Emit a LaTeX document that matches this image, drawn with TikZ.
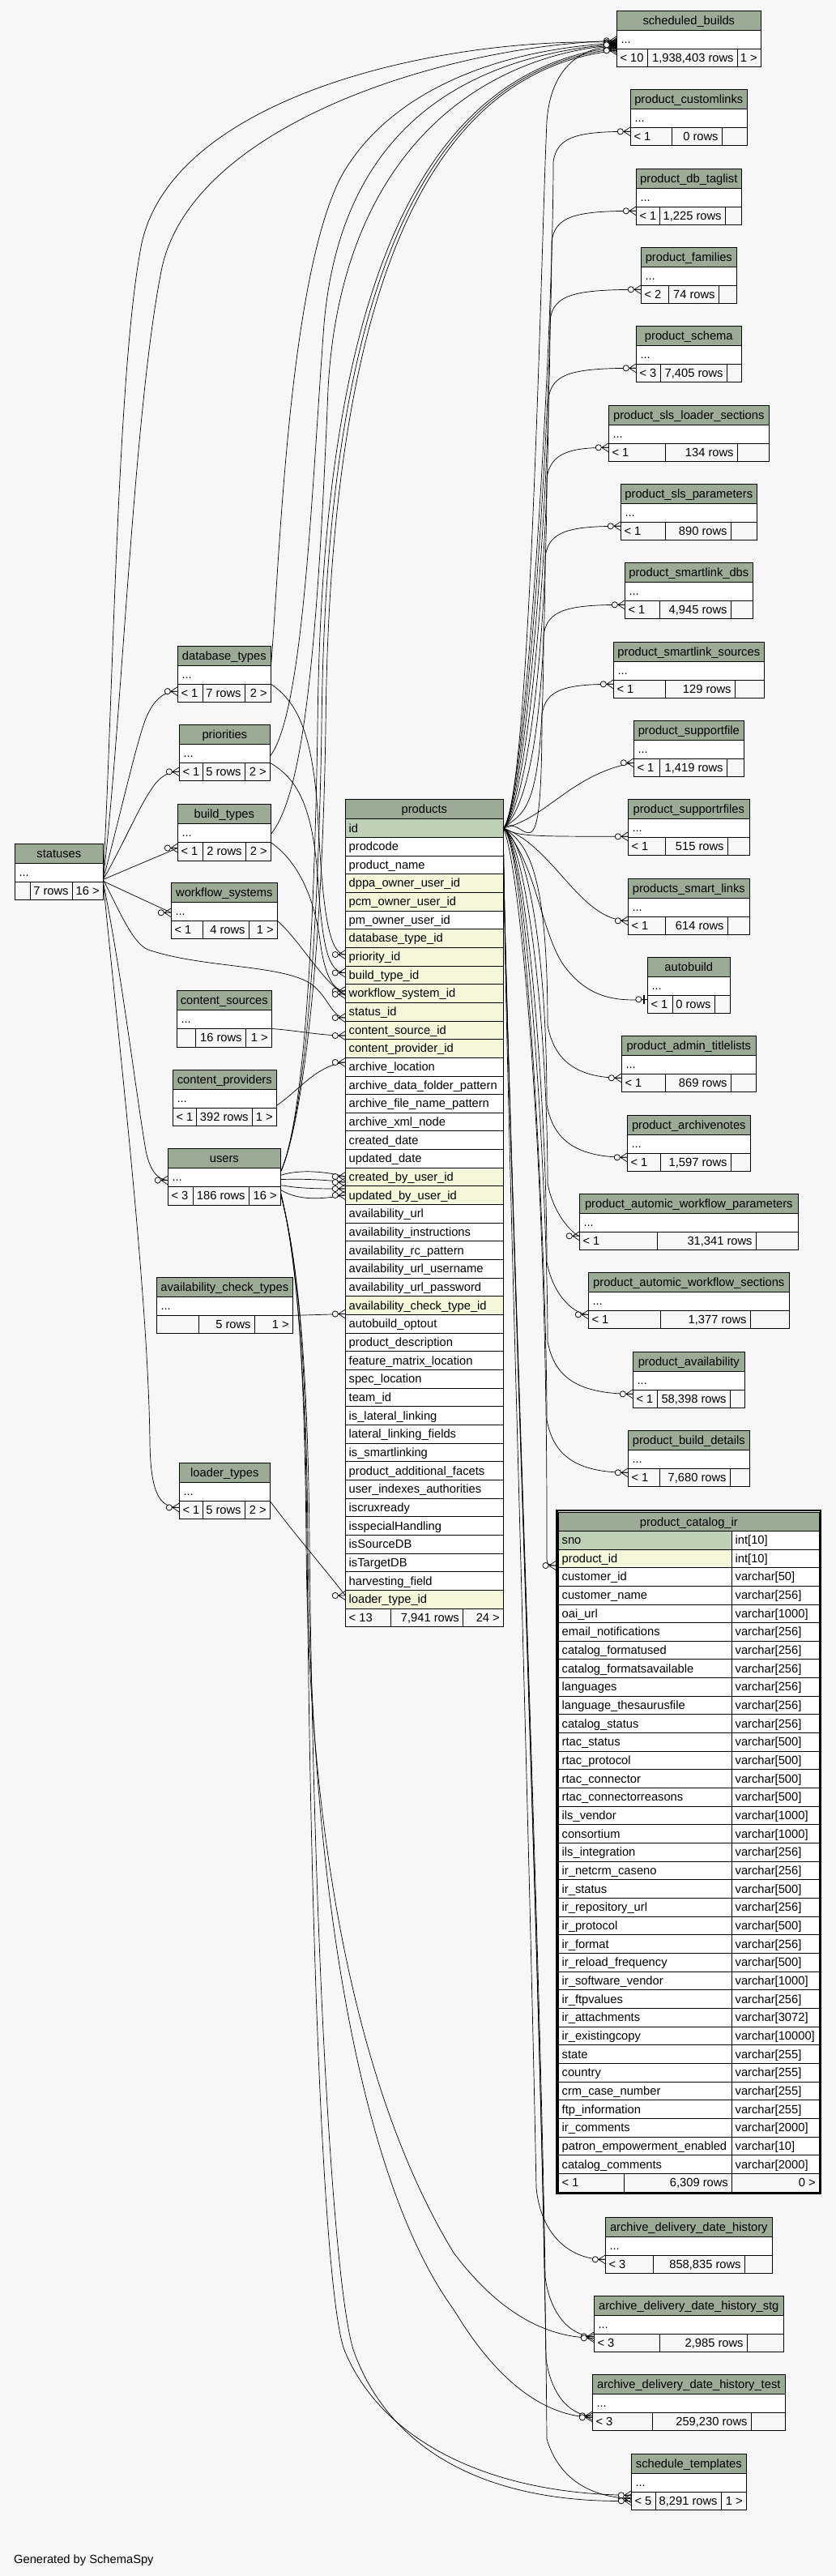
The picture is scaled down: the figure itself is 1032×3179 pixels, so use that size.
\documentclass[tikz,border=0pt]{standalone}
\usepackage{fontspec}
\setmainfont{Liberation Sans}
\usetikzlibrary{calc}
\pgfdeclarelayer{back}
\pgfsetlayers{back,main}
\definecolor{bg}{HTML}{F7F7F7}
\definecolor{hdr}{HTML}{9BAB96}
\definecolor{rowp}{HTML}{BED1B8}
\definecolor{rowf}{HTML}{F4F7DA}
\definecolor{roww}{HTML}{FFFFFF}
\tikzset{
 cell/.style={draw=black,line width=0.9pt},
 txt/.style={inner sep=0pt,font=\fontsize{14.7}{17}\selectfont},
 rel/.style={draw=black,line width=0.7pt},
}
\newcommand\stab[7]{\def\sTn{#1}\def\sTt{#2}\def\sXa{#3}\def\sXb{#4}\def\sYa{#5}\def\sDa{#6}\def\sDb{#7}\stabfoot}
\newcommand\stabfoot[3]{%
 \pgfmathsetmacro\sYb{\sYa+24}%
 \pgfmathsetmacro\sYc{\sYa+47}%
 \pgfmathsetmacro\sYd{\sYa+69.5}%
 \pgfmathsetmacro\sXm{(\sXa+\sXb)/2}%
 \pgfmathsetmacro\sW{\sXb-\sXa}%
 \fill[hdr] (\sXa,\sYa) rectangle (\sXb,\sYb);
 \fill[white] (\sXa,\sYb) rectangle (\sXb,\sYc);
 \fill[bg] (\sXa,\sYc) rectangle (\sXb,\sYd);
 \draw[cell] (\sXa,\sYa) rectangle (\sXb,\sYd);
 \draw[cell] (\sXa,\sYb) -- (\sXb,\sYb) (\sXa,\sYc) -- (\sXb,\sYc) (\sDa,\sYc) -- (\sDa,\sYd) (\sDb,\sYc) -- (\sDb,\sYd);
 \node[inner sep=0pt,minimum width=\sW pt,minimum height=69.5pt] (\sTn) at (\sXm,\sYa+34.75) {};
 \node[txt,anchor=base] (\sTn-h) at (\sXm,\sYa+17) {\sTt};
 \node[txt,anchor=base west] (\sTn-d) at (\sXa+5,\sYb+16) {...};
 \node[txt,anchor=base west] (\sTn-f1) at (\sXa+4,\sYc+16) {#1};
 \node[txt,anchor=base east] (\sTn-f2) at (\sDb-4.5,\sYc+16) {#2};
 \node[txt,anchor=base east] (\sTn-f3) at (\sXb-4.5,\sYc+16) {#3};
 \coordinate (\sTn-w) at (\sXa,\sYc+5);
 \coordinate (\sTn-e) at (\sXb,\sYc);
}
\newcommand\fkm[1]{%
 \draw[rel] ($(#1)+(-8.5,0)$) -- ($(#1)+(0,-5.5)$) ($(#1)+(-8.5,0)$) -- ($(#1)+(0,5.5)$) ($(#1)+(-8.5,0)$) -- (#1);
 \filldraw[fill=bg,draw=black,line width=0.75pt] ($(#1)+(-12.5,0)$) circle[radius=3.6pt];}
\newcommand\onem[1]{%
 \draw[rel] ($(#1)+(-9,0)$) -- (#1);
 \draw[line width=1.8pt] ($(#1)+(-4,-5.5)$) -- ($(#1)+(-4,5.5)$);
 \filldraw[fill=bg,draw=black,line width=0.75pt] ($(#1)+(-11,0)$) circle[radius=3.6pt];}
\begin{document}
\begin{tikzpicture}[x=1pt,y=-1pt]
\useasboundingbox (0,0) rectangle (1032,3179);
\begin{pgfonlayer}{back}
\fill[bg] (0,0) rectangle (1032,3179);
\end{pgfonlayer}

% ---------- right-hand tables ----------
\stab{sb}{scheduled\_builds}{761.3}{939.3}{13.3}{799.3}{910.3}{< 10}{1,938,403 rows}{1 >}
\stab{cl}{product\_customlinks}{778.3}{922.3}{110.3}{829.3}{891.3}{< 1}{0 rows}{}
\stab{tag}{product\_db\_taglist}{785.3}{915.3}{208.3}{814.3}{895.3}{< 1}{1,225 rows}{}
\stab{fam}{product\_families}{791.3}{909.3}{305.3}{825.3}{887.3}{< 2}{74 rows}{}
\stab{sch}{product\_schema}{785.3}{915.3}{402.3}{815.3}{897.3}{< 3}{7,405 rows}{}
\stab{sls}{product\_sls\_loader\_sections}{751.3}{949.3}{500.3}{821.3}{910.3}{< 1}{134 rows}{}
\stab{slsp}{product\_sls\_parameters}{766.3}{934.3}{597.3}{821.3}{902.3}{< 1}{890 rows}{}
\stab{sdb}{product\_smartlink\_dbs}{771.3}{929.3}{694.3}{814.3}{902.3}{< 1}{4,945 rows}{}
\stab{ssrc}{product\_smartlink\_sources}{757.3}{943.3}{792.3}{821.3}{907.3}{< 1}{129 rows}{}
\stab{sf}{product\_supportfile}{782.3}{918.3}{889.3}{814.3}{897.3}{< 1}{1,419 rows}{}
\stab{srf}{product\_supportrfiles}{775.3}{925.3}{986.3}{821.3}{898.3}{< 1}{515 rows}{}
\stab{psl}{products\_smart\_links}{775.3}{925.3}{1084.3}{821.3}{898.3}{< 1}{614 rows}{}
\stab{ab}{autobuild}{799.3}{901.3}{1181.3}{830.3}{882.3}{< 1}{0 rows}{}
\stab{adm}{product\_admin\_titlelists}{767.3}{933.3}{1278.3}{821.3}{902.3}{< 1}{869 rows}{}
\stab{an}{product\_archivenotes}{774.3}{926.3}{1376.3}{815.3}{902.3}{< 1}{1,597 rows}{}
\stab{awp}{product\_automic\_workflow\_parameters}{715.3}{985.3}{1473.3}{811.3}{933.3}{< 1}{31,341 rows}{}
\stab{aws}{product\_automic\_workflow\_sections}{726.3}{974.3}{1570.3}{815.3}{926.3}{< 1}{1,377 rows}{}
\stab{pav}{product\_availability}{781.3}{919.3}{1668.3}{811.3}{901.3}{< 1}{58,398 rows}{}
\stab{pbd}{product\_build\_details}{775.3}{925.3}{1765.3}{814.3}{901.3}{< 1}{7,680 rows}{}
\stab{adh}{archive\_delivery\_date\_history}{747.3}{953.3}{2736.3}{806.3}{919.3}{< 3}{858,835 rows}{}
\stab{stg}{archive\_delivery\_date\_history\_stg}{733.3}{967.3}{2833.3}{814.3}{922.3}{< 3}{2,985 rows}{}
\stab{tst}{archive\_delivery\_date\_history\_test}{731.3}{969.3}{2930.3}{805.3}{927.3}{< 3}{259,230 rows}{}
\stab{st}{schedule\_templates}{779.3}{921.3}{3028.3}{809.3}{890.3}{< 5}{8,291 rows}{1 >}

% ---------- left-hand tables ----------
\stab{dbt}{database\_types}{219.3}{334.3}{797.1}{250}{302.3}{< 1}{7 rows}{2 >}
\stab{pri}{priorities}{221.3}{333.3}{894.3}{250}{302.3}{< 1}{5 rows}{2 >}
\stab{bt}{build\_types}{219.3}{334.3}{992.5}{250}{303.3}{< 1}{2 rows}{2 >}
\stab{sts}{statuses}{18.3}{127.3}{1041.4}{37.3}{89.3}{}{7 rows}{16 >}
\stab{wf}{workflow\_systems}{211.3}{342.3}{1089.3}{250.3}{307.3}{< 1}{4 rows}{1 >}
\stab{cs}{content\_sources}{218.3}{335.3}{1222.5}{241.3}{303.3}{}{16 rows}{1 >}
\stab{cp}{content\_providers}{213.3}{341.3}{1320.4}{242.3}{311.3}{< 1}{392 rows}{1 >}
\stab{usr}{users}{207.3}{346.3}{1417.5}{238.3}{307.3}{< 3}{186 rows}{16 >}
\stab{act}{availability\_check\_types}{193.3}{361.3}{1576.4}{245.3}{314.3}{}{5 rows}{1 >}
\stab{lt}{loader\_types}{221.3}{333.3}{1805.4}{250}{302.3}{< 1}{5 rows}{2 >}

% ---------- products ----------
\node[inner sep=0pt,minimum width=195pt,minimum height=1021.7pt] (products) at (523.8,1496.85) {};
\fill[hdr] (426.3,986) rectangle (621.3,1010.7);
\draw[cell] (426.3,986) rectangle (621.3,1010.7);
\node[txt,anchor=base] (p-h) at (523.8,1003.3) {products};
\foreach \t/\c [count=\i from 0] in {id/p,prodcode/w,product\_name/w,dppa\_owner\_user\_id/f,pcm\_owner\_user\_id/f,pm\_owner\_user\_id/w,database\_type\_id/f,priority\_id/f,build\_type\_id/f,workflow\_system\_id/f,status\_id/f,content\_source\_id/f,content\_provider\_id/f,archive\_location/w,archive\_data\_folder\_pattern/w,archive\_file\_name\_pattern/w,archive\_xml\_node/w,created\_date/w,updated\_date/w,created\_by\_user\_id/f,updated\_by\_user\_id/f,availability\_url/w,availability\_instructions/w,availability\_rc\_pattern/w,availability\_url\_username/w,availability\_url\_password/w,availability\_check\_type\_id/f,autobuild\_optout/w,product\_description/w,feature\_matrix\_location/w,spec\_location/w,team\_id/w,is\_lateral\_linking/w,lateral\_linking\_fields/w,is\_smartlinking/w,product\_additional\_facets/w,user\_indexes\_authorities/w,iscruxready/w,isspecialHandling/w,isSourceDB/w,isTargetDB/w,harvesting\_field/w,loader\_type\_id/f}{
 \pgfmathsetmacro\ya{1010.7+22.66*\i}
 \fill[row\c] (426.3,\ya) rectangle (621.3,\ya+22.66);
 \draw[cell] (426.3,\ya) rectangle (621.3,\ya+22.66);
 \node[txt,anchor=base west] at (430.5,\ya+16.3) {\t};
}
\fill[bg] (426.3,1985.1) rectangle (621.3,2007.7);
\draw[cell] (426.3,1985.1) rectangle (621.3,2007.7) (482.3,1985.1) -- (482.3,2007.7) (571.3,1985.1) -- (571.3,2007.7);
\node[txt,anchor=base west] (p-f1) at (430.5,2001.4) {< 13};
\node[txt,anchor=base east] (p-f2) at (567,2001.4) {7,941 rows};
\node[txt,anchor=base east] (p-f3) at (617,2001.4) {24 >};

% ---------- product_catalog_ir ----------
\node[inner sep=0pt,minimum width=328pt,minimum height=845pt] (cat) at (850.2,2285.3) {};
\fill[hdr] (689.3,1866) rectangle (1011.3,1889.3);
\draw[cell] (689.3,1866) rectangle (1011.3,1889.3);
\node[txt,anchor=base] (cat-h) at (850.3,1883) {product\_catalog\_ir};
\foreach \t/\ty/\c [count=\i from 0] in {sno/int[10]/p,product\_id/int[10]/f,customer\_id/varchar[50]/w,customer\_name/varchar[256]/w,oai\_url/varchar[1000]/w,email\_notifications/varchar[256]/w,catalog\_formatused/varchar[256]/w,catalog\_formatsavailable/varchar[256]/w,languages/varchar[256]/w,language\_thesaurusfile/varchar[256]/w,catalog\_status/varchar[256]/w,rtac\_status/varchar[500]/w,rtac\_protocol/varchar[500]/w,rtac\_connector/varchar[500]/w,rtac\_connectorreasons/varchar[500]/w,ils\_vendor/varchar[1000]/w,consortium/varchar[1000]/w,ils\_integration/varchar[256]/w,ir\_netcrm\_caseno/varchar[256]/w,ir\_status/varchar[500]/w,ir\_repository\_url/varchar[256]/w,ir\_protocol/varchar[500]/w,ir\_format/varchar[256]/w,ir\_reload\_frequency/varchar[500]/w,ir\_software\_vendor/varchar[1000]/w,ir\_ftpvalues/varchar[256]/w,ir\_attachments/varchar[3072]/w,ir\_existingcopy/varchar[10000]/w,state/varchar[255]/w,country/varchar[255]/w,crm\_case\_number/varchar[255]/w,ftp\_information/varchar[255]/w,ir\_comments/varchar[2000]/w,patron\_empowerment\_enabled/varchar[10]/w,catalog\_comments/varchar[2000]/w}{
 \pgfmathsetmacro\ya{1889.3+22.66*\i}
 \fill[row\c] (689.3,\ya) rectangle (903.3,\ya+22.66);
 \fill[white] (903.3,\ya) rectangle (1011.3,\ya+22.66);
 \draw[cell] (689.3,\ya) rectangle (903.3,\ya+22.66) (903.3,\ya) rectangle (1011.3,\ya+22.66);
 \node[txt,anchor=base west] at (693.5,\ya+16.3) {\t};
 \node[txt,anchor=base west] at (907.5,\ya+16.3) {\ty};
}
\fill[bg] (689.3,2682.4) rectangle (1011.3,2705);
\draw[cell] (689.3,2682.4) rectangle (1011.3,2705) (770,2682.4) -- (770,2705) (903.3,2682.4) -- (903.3,2705);
\node[txt,anchor=base west] (cat-f1) at (693.5,2698.7) {< 1};
\node[txt,anchor=base east] (cat-f2) at (899,2698.7) {6,309 rows};
\node[txt,anchor=base east] (cat-f3) at (1007,2698.7) {0 >};
\draw[line width=2.6pt] (687.4,1864.0) rectangle (1013.1,2706.8);

\node[txt,anchor=base west] (gen) at (17,3163) {Generated by SchemaSpy};

% ---------- named end points ----------
\coordinate (p-id) at (621.3,1022);
\coordinate (p-dbt) at (426.3,1178);
\coordinate (p-pri) at (426.3,1200.5);
\coordinate (p-bt) at (426.3,1223);
\coordinate (p-wf) at (426.3,1227);
\coordinate (p-st) at (426.3,1256);
\coordinate (p-cs) at (426.3,1278);
\coordinate (p-cp) at (426.3,1311);
\coordinate (p-u1) at (426.3,1452);
\coordinate (p-u2) at (426.3,1459);
\coordinate (p-u3) at (426.3,1467);
\coordinate (p-u4) at (426.3,1475);
\coordinate (p-act) at (426.3,1621.5);
\coordinate (p-lt) at (426.3,1969);
\coordinate (cat-w) at (686,1932);
\coordinate (e-sb0) at ($(sb-w)+(0,-9)$);
\coordinate (e-sbs1) at ($(sb-w)+(0,-15)$);
\coordinate (e-sbs2) at ($(sb-w)+(0,-13)$);
\coordinate (e-sbu1) at ($(sb-w)+(0,-7)$);
\coordinate (e-sbu2) at ($(sb-w)+(0,-5)$);
\coordinate (e-sbu3) at ($(sb-w)+(0,-3)$);
\coordinate (e-sbd) at ($(sb-w)+(0,-12)$);
\coordinate (e-sbp) at ($(sb-w)+(0,-11)$);
\coordinate (e-sbb) at ($(sb-w)+(0,-10)$);
\coordinate (e-srf) at ($(srf-w)+(0,-6)$);
\coordinate (e-ab) at ($(ab-w)+(0,0)$);
\coordinate (e-adh) at ($(adh-w)+(0,0)$);
\coordinate (e-stg) at ($(stg-w)+(0,-2)$);
\coordinate (e-stgu) at ($(stg-w)+(0,0)$);
\coordinate (e-tst) at ($(tst-w)+(0,-1)$);
\coordinate (e-tstu) at ($(tst-w)+(0,1)$);
\coordinate (e-st) at ($(st-w)+(0,3)$);
\coordinate (e-stu1) at ($(st-w)+(0,-1)$);
\coordinate (e-stu2) at ($(st-w)+(0,6)$);
\coordinate (e-dbt) at ($(dbt-w)+(0,4)$);
\coordinate (e-pri) at ($(pri-w)+(0,6)$);
\coordinate (e-bt) at ($(bt-w)+(0,2)$);
\coordinate (e-wf) at ($(wf-w)+(0,-15)$);
\coordinate (e-usr) at ($(usr-w)+(0,-13)$);
\coordinate (e-lt) at ($(lt-w)+(0,3)$);

% ---------- connectors ----------
\begin{pgfonlayer}{back}
% products -> upper right tables
\draw[rel] (p-id) .. controls (655,990) and (668,300) .. (675,150) .. controls (680,80) and (720,58) .. (e-sb0);
\foreach \T/\bx in {cl/683,tag/681,fam/679,sch/677,sls/675,slsp/673,sdb/671,ssrc/669}{
 \draw[rel] (p-id) .. controls (648,1000) and ($(\bx,0 |- \T-w)+(0,260)$) .. ($(\bx,0 |- \T-w)+(0,38)$) .. controls ($(\bx,0 |- \T-w)+(4,6)$) and ($(\bx,0 |- \T-w)+(30,0)$) .. (\T-w);
}
\draw[rel] (p-id) .. controls (675,1010) and (705,955) .. (sf-w);
\draw[rel] (p-id) .. controls (640,1033) and (660,1032) .. (e-srf);
\draw[rel] (p-id) .. controls (685,1045) and (715,1136) .. (psl-w);
\draw[rel] (p-id) .. controls (660,1060) and (668,1150) .. (695,1190) .. controls (725,1232) and (760,1236) .. (e-ab);
\foreach \T/\bx in {adm/676,an/675,awp/676,aws/675,pav/676,pbd/675}{
 \draw[rel] (p-id) .. controls (650,1040) and ($(\bx,0 |- \T-w)+(0,-260)$) .. ($(\bx,0 |- \T-w)+(0,-65)$) .. controls ($(\bx,0 |- \T-w)+(8,-22)$) and ($(\bx,0 |- \T-w)+(35,0)$) .. (\T-w);
}
\draw[rel] (p-id) .. controls (640,1060) and (675,1400) .. (675,1880) -- (675,1924) .. controls (675,1930) and (677,1932) .. (cat-w);
% products -> bottom tables
\draw[rel] (p-id) .. controls (623,1300) and (650,2100) .. (662,2700) .. controls (668,2760) and (705,2789) .. (e-adh);
\draw[rel] (p-id) .. controls (623,1300) and (665,2300) .. (673,2810) .. controls (678,2850) and (700,2883) .. (e-stg);
\draw[rel] (p-id) .. controls (623,1300) and (667,2400) .. (674,2910) .. controls (679,2950) and (700,2981) .. (e-tst);
\draw[rel] (p-id) .. controls (623,1300) and (672,2500) .. (675,3010) .. controls (690,3060) and (730,3082) .. (e-st);
% users -> products
\draw[rel] ($(usr-e)+(0,-14)$) .. controls (365,1444) and (395,1444) .. (p-u1);
\draw[rel] ($(usr-e)+(0,-9)$) .. controls (370,1455) and (395,1455) .. (p-u2);
\draw[rel] ($(usr-e)+(0,-2)$) .. controls (370,1467) and (395,1467) .. (p-u3);
\draw[rel] ($(usr-e)+(0,4)$) .. controls (370,1482) and (395,1480) .. (p-u4);
% users -> scheduled_builds
\foreach \k/\dx in {1/0,2/5,3/10}{
 \draw[rel] ($(usr-e)+(0,-18)$) .. controls (372,1390) and ({387+\dx},1200) .. ({392+\dx},900) .. controls ({396+\dx},450) and ({480+\dx},90) .. (e-sbu\k);
}
% statuses -> scheduled_builds
\draw[rel] ($(sts-e)+(0,-4)$) .. controls (150,900) and (165,500) .. (200,330) .. controls (240,150) and (560,55) .. (e-sbs1);
\draw[rel] ($(sts-e)+(0,-4)$) .. controls (140,850) and (145,450) .. (175,300) .. controls (215,120) and (540,45) .. (e-sbs2);
% lookup tables -> scheduled_builds
\draw[rel] ($(dbt-e)+(0,-20)$) .. controls (345,700) and (355,350) .. (420,220) .. controls (480,110) and (620,60) .. (e-sbd);
\draw[rel] ($(pri-e)+(0,-8)$) .. controls (375,880) and (385,600) .. (400,400) .. controls (420,170) and (560,70) .. (e-sbp);
\draw[rel] ($(bt-e)+(0,-10)$) .. controls (375,980) and (392,800) .. (405,480) .. controls (420,200) and (580,70) .. (e-sbb);
% lookup tables -> products
\draw[rel] (dbt-e) .. controls (365,865) and (385,900) .. (392,1000) .. controls (398,1120) and (405,1178) .. (p-dbt);
\draw[rel] (pri-e) .. controls (365,960) and (385,990) .. (392,1080) .. controls (398,1170) and (405,1200) .. (p-pri);
\draw[rel] (bt-e) .. controls (370,1065) and (388,1110) .. (395,1160) .. controls (400,1200) and (410,1223) .. (p-bt);
\draw[rel] (wf-e) .. controls (370,1160) and (400,1215) .. (p-wf);
\draw[rel] ($(sts-e)+(0,-3)$) .. controls (150,1130) and (165,1165) .. (183,1172) .. controls (250,1195) and (350,1190) .. (385,1215) .. controls (405,1230) and (410,1256) .. (p-st);
\draw[rel] (cs-e) .. controls (370,1272) and (395,1278) .. (p-cs);
\draw[rel] ($(cp-e)+(0,-3)$) .. controls (370,1345) and (390,1315) .. (p-cp);
\draw[rel] (act-e) -- (p-act);
\draw[rel] (lt-e) .. controls (365,1895) and (400,1935) .. (p-lt);
% statuses -> lookup tables
\draw[rel] ($(sts-e)+(0,-3)$) .. controls (150,1000) and (172,900) .. (183,880) .. controls (190,866) and (200,853) .. (e-dbt);
\draw[rel] ($(sts-e)+(0,-3)$) .. controls (148,1050) and (170,1000) .. (183,980) .. controls (192,965) and (202,952) .. (e-pri);
\draw[rel] ($(sts-e)+(0,-3)$) -- (e-bt);
\draw[rel] ($(sts-e)+(0,-1)$) -- (e-wf);
\draw[rel] (sts-e) .. controls (150,1200) and (168,1350) .. (180,1420) .. controls (185,1445) and (195,1456) .. (e-usr);
\draw[rel] (sts-e) .. controls (148,1300) and (183,1600) .. (185,1780) .. controls (186,1850) and (200,1860) .. (e-lt);
% users -> bottom tables
\draw[rel] ($(usr-e)+(0,6)$) .. controls (368,1560) and (377,1700) .. (379,1900) .. controls (383,2400) and (400,2830) .. (425,2900) .. controls (470,3010) and (600,3078) .. (e-stu1);
\draw[rel] ($(usr-e)+(0,8)$) .. controls (370,1565) and (380,1700) .. (382,1900) .. controls (387,2400) and (412,2840) .. (438,2905) .. controls (485,3030) and (610,3090) .. (e-stu2);
\draw[rel] ($(usr-e)+(0,7)$) .. controls (369,1560) and (376,1700) .. (378,1900) .. controls (380,2300) and (450,2600) .. (560,2780) .. controls (620,2860) and (680,2885) .. (e-stgu);
\draw[rel] ($(usr-e)+(0,9)$) .. controls (371,1565) and (378,1700) .. (380,1900) .. controls (383,2350) and (450,2700) .. (560,2850) .. controls (620,2950) and (680,2982) .. (e-tstu);
\end{pgfonlayer}

% ---------- markers ----------
\foreach \m in {e-sb0,e-sbs1,e-sbs2,e-sbu1,e-sbu2,e-sbu3,e-sbd,e-sbp,e-sbb,cl-w,tag-w,fam-w,sch-w,sls-w,slsp-w,sdb-w,ssrc-w,sf-w,e-srf,psl-w,adm-w,an-w,awp-w,aws-w,pav-w,pbd-w,cat-w,e-adh,e-stg,e-stgu,e-tst,e-tstu,e-st,e-stu1,e-stu2,p-dbt,p-pri,p-bt,p-wf,p-st,p-cs,p-cp,p-u1,p-u2,p-u3,p-u4,p-act,p-lt,e-dbt,e-pri,e-bt,e-wf,e-usr,e-lt}{\fkm{\m}}
\onem{e-ab}
\end{tikzpicture}
\end{document}
